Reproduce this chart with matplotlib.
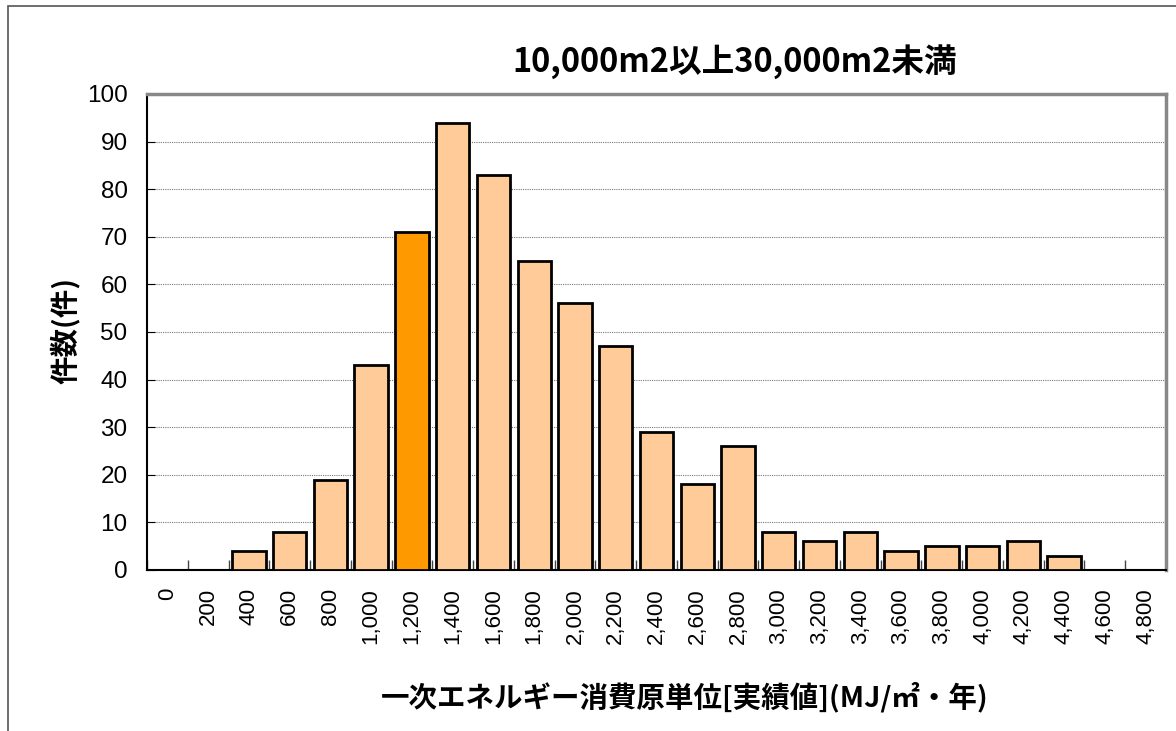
import matplotlib.pyplot as plt
import numpy as np
from matplotlib.patches import Rectangle

plt.rcParams['font.family'] = ['Liberation Sans', 'Noto Sans CJK JP', 'DejaVu Sans']

# data
bins = [0, 200, 400, 600, 800, 1000, 1200, 1400, 1600, 1800, 2000, 2200, 2400,
        2600, 2800, 3000, 3200, 3400, 3600, 3800, 4000, 4200, 4400, 4600, 4800]
counts = [0, 0, 4, 8, 19, 43, 71, 94, 83, 65, 56, 47, 29,
          18, 26, 8, 6, 8, 4, 5, 5, 6, 3, 0, 0]
highlight = 1200
tick_labels = [f'{b:,}' for b in bins]

fig = plt.figure(figsize=(11.76, 7.31), dpi=100)
ax = fig.add_axes([147/1176, 1-570/731, (1166-147)/1176, (570-94)/731])

# outer frame (cut off at right/bottom like the screenshot)
fig.patches.append(Rectangle((8/1176, -0.05), 1.2, 1-6/731+0.05, transform=fig.transFigure,
                             fill=False, ec='#555555', lw=1.2, zorder=0))

x = np.arange(len(bins))
colors = ['#FF9900' if b == highlight else '#FFCC99' for b in bins]
ax.bar(x, counts, width=0.82, color=colors, edgecolor='black', linewidth=2, zorder=3)

ax.set_xlim(-0.5, len(bins)-0.5)
ax.set_ylim(0, 100)
ax.set_yticks(range(0, 101, 10))
ax.yaxis.grid(True, linestyle=(0, (1, 1)), color='#777777', linewidth=0.8, zorder=0)

ax.set_xticks(x)
ax.set_xticklabels(tick_labels, rotation=90, fontsize=16)
ax.tick_params(axis='x', length=0, pad=13)
ax.set_xticks(np.arange(len(bins)+1)-0.5, minor=True)
ax.tick_params(axis='x', which='minor', direction='in', length=7, width=1, color='#444444')
ax.tick_params(axis='y', direction='in', length=6, labelsize=17.5, pad=14)

for s in ['top', 'right']:
    ax.spines[s].set_color('#888888')
    ax.spines[s].set_linewidth(2.5)
ax.spines['left'].set_linewidth(1.5)
ax.spines['bottom'].set_linewidth(1.5)

fig.text(735/1176, 1-62/731, '10,000m2以上30,000m2未満', ha='center', va='center',
         fontsize=23.5, fontweight='bold', family=['Noto Sans CJK JP'])
fig.text(65/1176, 1-330/731, '件数(件)', ha='center', va='center', rotation=90,
         fontsize=20.5, fontweight='bold', family=['Noto Sans CJK JP'])
fig.text(685/1176, 1-697/731, '一次エネルギー消費原単位[実績値](MJ/㎡・年)', ha='center', va='center',
         fontsize=20.5, fontweight='bold', family=['Noto Sans CJK JP'])

fig.savefig('out.png', dpi=100)
